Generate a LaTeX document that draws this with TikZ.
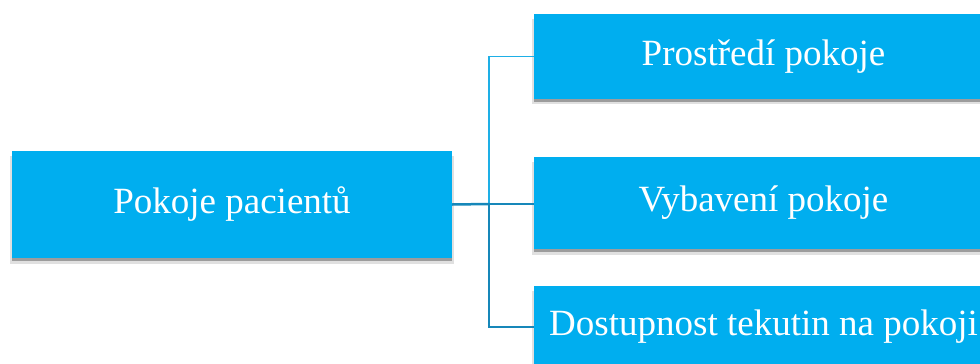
\documentclass[tikz,border=0pt]{standalone}
\usepackage{fontspec}
\setmainfont{Liberation Serif}
\usetikzlibrary{shadows}
\definecolor{boxblue}{RGB}{0,174,239}
\definecolor{linkdark}{RGB}{22,135,185}
\definecolor{linklight}{RGB}{30,175,230}
\tikzset{
  topicbox/.style={rectangle, fill=boxblue, text=white, font=\fontsize{37}{44}\selectfont,
    general shadow={shadow xshift=0pt, shadow yshift=-5pt, shadow scale=1.01, opacity=0.12, fill=black},
    drop shadow={shadow xshift=0pt, shadow yshift=-3pt, opacity=0.3, fill=black}},
  darklink/.style={draw=linkdark, line width=2.5pt},
  lightlink/.style={draw=linklight, line width=1.2pt}
}
\begin{document}
\begin{tikzpicture}[x=1pt, y=-1pt]
        \clip (0, 0) rectangle (980, 364);
        \useasboundingbox (0, 0) rectangle (980, 364);

        \node[topicbox, minimum width=440pt, minimum height=107pt] (pokoje) at (232, 204.5) {Pokoje pacientů};
        \node[topicbox, minimum width=459pt, minimum height=85pt] (prostredi) at (763.5, 56.5) {Prostředí pokoje};
        \node[topicbox, minimum width=459pt, minimum height=92pt] (vybaveni) at (763.5, 203) {Vybavení pokoje};
        \node[topicbox, minimum width=459pt, minimum height=82pt] (dostupnost) at (763.5, 327) {Dostupnost tekutin na pokoji};

        \coordinate (branch) at (489, 204);

        \draw[lightlink] (branch) |- (prostredi.west);
        \draw[darklink] (pokoje.east) -- (branch);
        \draw[darklink] (branch) -- (vybaveni.west |- branch);
        \draw[darklink] (branch) |- (dostupnost.west);

\end{tikzpicture}
\end{document}
